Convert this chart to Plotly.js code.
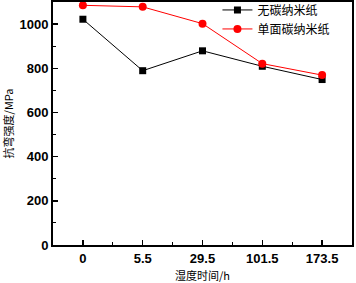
<!DOCTYPE html>
<html>
<head>
<meta charset="utf-8">
<script src="https://cdn.plot.ly/plotly-3.0.1.min.js"></script>
<style>html,body{margin:0;padding:0;background:#fff;overflow:hidden;}#chart{width:356px;height:292px;margin-top:-9px;}</style>
</head>
<body>
<div id="chart"></div>
<script>
const categories = ["0", "5.5", "29.5", "101.5", "173.5"];
const noCarbon = [1022, 789, 879, 809, 749];
const singleSide = [1085, 1078, 1002, 821, 769];
const seriesNames = ["无碳纳米纸", "单面碳纳米纸"];
const yTicks = [0, 200, 400, 600, 800, 1000];

const xIdx = categories.map((_, i) => i);
const cjk = '"Noto Sans CJK SC", sans-serif';
const tickFont = {family: '"Liberation Sans", Arial, sans-serif', size: 13, color: '#000', weight: 'bold'};

const traces = [
  {x: xIdx, y: noCarbon, name: seriesNames[0], mode: 'lines+markers', type: 'scatter',
   line: {color: '#000', width: 1}, marker: {symbol: 'square', size: 7, color: '#000'}},
  {x: xIdx, y: singleSide, name: seriesNames[1], mode: 'lines+markers', type: 'scatter',
   line: {color: '#ff0000', width: 1}, marker: {symbol: 'circle', size: 8, color: '#ff0000'}}
];

const layout = {
  width: 356, height: 292,
  margin: {l: 53, r: 4, t: 11, b: 38, autoexpand: false},
  paper_bgcolor: '#fff', plot_bgcolor: '#fff',
  showlegend: true,
  legend: {x: 0.55, y: 1.027, xanchor: 'left', yanchor: 'top', bgcolor: 'rgba(0,0,0,0)',
           font: {family: cjk, size: 12, color: '#000'}, tracegroupgap: 0, itemwidth: 30},
  xaxis: {
    range: [-0.5, 4.5], tickvals: xIdx, ticktext: categories,
    ticks: 'inside', ticklen: 5, tickwidth: 1.5, tickcolor: '#000',
    minor: {ticks: 'inside', ticklen: 3, tickwidth: 1, tickcolor: '#000', dtick: 0.5, tick0: 0.5},
    showgrid: false, zeroline: false,
    showline: true, linecolor: '#000', linewidth: 2, mirror: true,
    tickfont: tickFont,
    title: {text: '湿度时间/h', font: {family: cjk, size: 11, color: '#000'}, standoff: 13}
  },
  yaxis: {
    range: [0, 1100], tickvals: yTicks,
    ticks: 'inside', ticklen: 5, tickwidth: 1.5, tickcolor: '#000',
    minor: {ticks: 'inside', ticklen: 3, tickwidth: 1, tickcolor: '#000', dtick: 100, tick0: 100},
    showgrid: false, zeroline: false,
    showline: true, linecolor: '#000', linewidth: 2, mirror: true,
    tickfont: tickFont,
    title: {text: '抗弯强度/MPa', font: {family: cjk, size: 11, color: '#000'}, standoff: 6}
  }
};

Plotly.newPlot('chart', traces, layout, {displayModeBar: false, staticPlot: true});
</script>
</body>
</html>
